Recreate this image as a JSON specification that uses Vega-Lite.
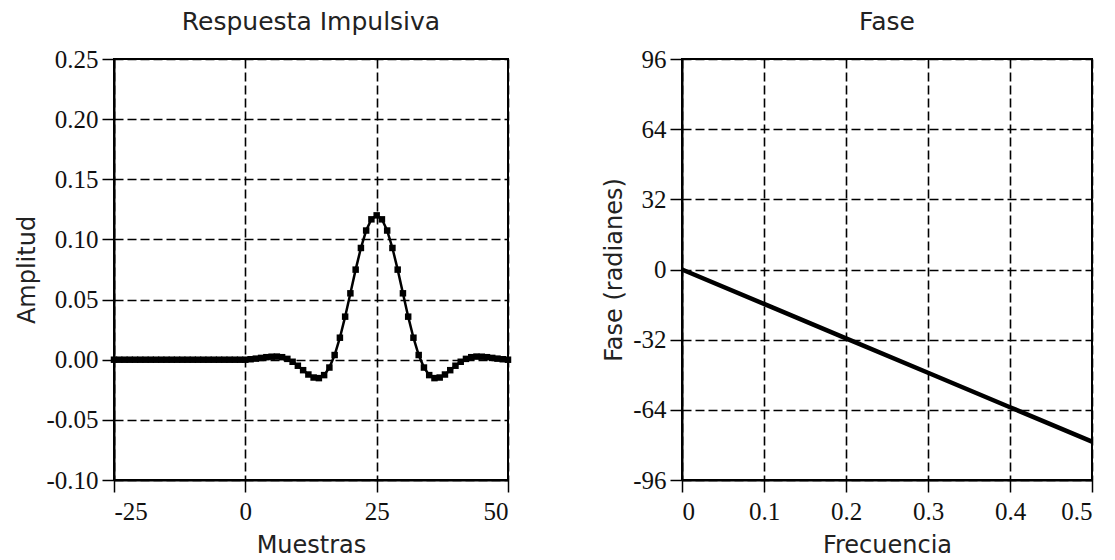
{
  "$schema": "https://vega.github.io/schema/vega-lite/v6.json",
  "padding": {"left": 14, "top": 9, "right": 5, "bottom": 5},
  "background": "white",
  "bounds": "flush",
  "spacing": 174,
  "config": {
    "view": {"stroke": "black", "strokeWidth": 2},
    "axis": {
      "domainColor": "black", "domainWidth": 2,
      "tickColor": "black", "tickWidth": 1.5, "tickSize": 12,
      "gridColor": "black", "gridDash": [9, 4], "gridWidth": 1.6, "gridOpacity": 1,
      "labelFont": "Liberation Serif", "labelFontSize": 25, "labelColor": "#111",
      "titleFont": "DejaVu Sans", "titleFontSize": 24, "titleFontWeight": "normal", "titleColor": "#222"
    },
    "axisX": {"labelPadding": 7, "titlePadding": 9},
    "axisY": {"labelPadding": 4, "titlePadding": 6},
    "title": {"font": "DejaVu Sans", "fontSize": 25, "fontWeight": "normal", "color": "#222", "offset": 12}
  },
  "datasets": {
    "impulso": [
      {"n": -25, "h": 0}, {"n": -24, "h": 0}, {"n": -23, "h": 0}, {"n": -22, "h": 0}, {"n": -21, "h": 0},
      {"n": -20, "h": 0}, {"n": -19, "h": 0}, {"n": -18, "h": 0}, {"n": -17, "h": 0}, {"n": -16, "h": 0},
      {"n": -15, "h": 0}, {"n": -14, "h": 0}, {"n": -13, "h": 0}, {"n": -12, "h": 0}, {"n": -11, "h": 0},
      {"n": -10, "h": 0}, {"n": -9, "h": 0}, {"n": -8, "h": 0}, {"n": -7, "h": 0}, {"n": -6, "h": 0},
      {"n": -5, "h": 0}, {"n": -4, "h": 0}, {"n": -3, "h": 0}, {"n": -2, "h": 0}, {"n": -1, "h": 0},
      {"n": 0, "h": 0}, {"n": 1, "h": 0.0004}, {"n": 2, "h": 0.0009}, {"n": 3, "h": 0.0015}, {"n": 4, "h": 0.0021},
      {"n": 5, "h": 0.0025}, {"n": 6, "h": 0.0026}, {"n": 7, "h": 0.0021}, {"n": 8, "h": 0.0007}, {"n": 9, "h": -0.0017},
      {"n": 10, "h": -0.005}, {"n": 11, "h": -0.0087}, {"n": 12, "h": -0.0123}, {"n": 13, "h": -0.0148}, {"n": 14, "h": -0.0153},
      {"n": 15, "h": -0.0128}, {"n": 16, "h": -0.0065}, {"n": 17, "h": 0.0039}, {"n": 18, "h": 0.0183}, {"n": 19, "h": 0.0358},
      {"n": 20, "h": 0.0552}, {"n": 21, "h": 0.0749}, {"n": 22, "h": 0.0929}, {"n": 23, "h": 0.1074}, {"n": 24, "h": 0.1167},
      {"n": 25, "h": 0.12}, {"n": 26, "h": 0.1167}, {"n": 27, "h": 0.1074}, {"n": 28, "h": 0.0929}, {"n": 29, "h": 0.0749},
      {"n": 30, "h": 0.0552}, {"n": 31, "h": 0.0358}, {"n": 32, "h": 0.0183}, {"n": 33, "h": 0.0039}, {"n": 34, "h": -0.0065},
      {"n": 35, "h": -0.0128}, {"n": 36, "h": -0.0153}, {"n": 37, "h": -0.0148}, {"n": 38, "h": -0.0123}, {"n": 39, "h": -0.0087},
      {"n": 40, "h": -0.005}, {"n": 41, "h": -0.0017}, {"n": 42, "h": 0.0007}, {"n": 43, "h": 0.0021}, {"n": 44, "h": 0.0026},
      {"n": 45, "h": 0.0025}, {"n": 46, "h": 0.0021}, {"n": 47, "h": 0.0015}, {"n": 48, "h": 0.0009}, {"n": 49, "h": 0.0004},
      {"n": 50, "h": 0}
    ],
    "fase": [
      {"f": 0, "fase": 0}, {"f": 0.1, "fase": -15.7}, {"f": 0.2, "fase": -31.4},
      {"f": 0.3, "fase": -47.1}, {"f": 0.4, "fase": -62.8}, {"f": 0.5, "fase": -78.5}
    ]
  },
  "hconcat": [
    {
      "title": "Respuesta Impulsiva",
      "width": 394,
      "height": 421,
      "data": {"name": "impulso"},
      "layer": [
        {
          "mark": {"type": "line", "color": "black", "strokeWidth": 2.5},
          "encoding": {
            "x": {"field": "n", "type": "quantitative", "title": "Muestras",
                  "scale": {"domain": [-25, 50], "nice": false},
                  "axis": {"values": [-25, 0, 25, 50], "labelExpr": "replace(format(datum.value, 'd'), '\u2212', '-')"}},
            "y": {"field": "h", "type": "quantitative", "title": "Amplitud",
                  "scale": {"domain": [-0.1, 0.25], "nice": false, "zero": false},
                  "axis": {"values": [-0.1, -0.05, 0, 0.05, 0.1, 0.15, 0.2, 0.25], "labelExpr": "replace(format(datum.value, '.2f'), '\u2212', '-')"}}
          }
        },
        {
          "mark": {"type": "point", "shape": "square", "filled": true, "color": "black", "opacity": 1, "size": 42},
          "encoding": {
            "x": {"field": "n", "type": "quantitative"},
            "y": {"field": "h", "type": "quantitative"}
          }
        }
      ]
    },
    {
      "title": "Fase",
      "width": 410,
      "height": 421,
      "data": {"name": "fase"},
      "mark": {"type": "line", "color": "black", "strokeWidth": 4.5},
      "encoding": {
        "x": {"field": "f", "type": "quantitative", "title": "Frecuencia",
              "scale": {"domain": [0, 0.5], "nice": false},
              "axis": {"values": [0, 0.1, 0.2, 0.3, 0.4, 0.5], "labelExpr": "datum.value == 0 ? '0' : format(datum.value, '.1f')"}},
        "y": {"field": "fase", "type": "quantitative", "title": "Fase (radianes)",
              "scale": {"domain": [-96, 96], "nice": false},
              "axis": {"values": [-96, -64, -32, 0, 32, 64, 96], "labelExpr": "replace(format(datum.value, 'd'), '\u2212', '-')"}}
      }
    }
  ]
}
